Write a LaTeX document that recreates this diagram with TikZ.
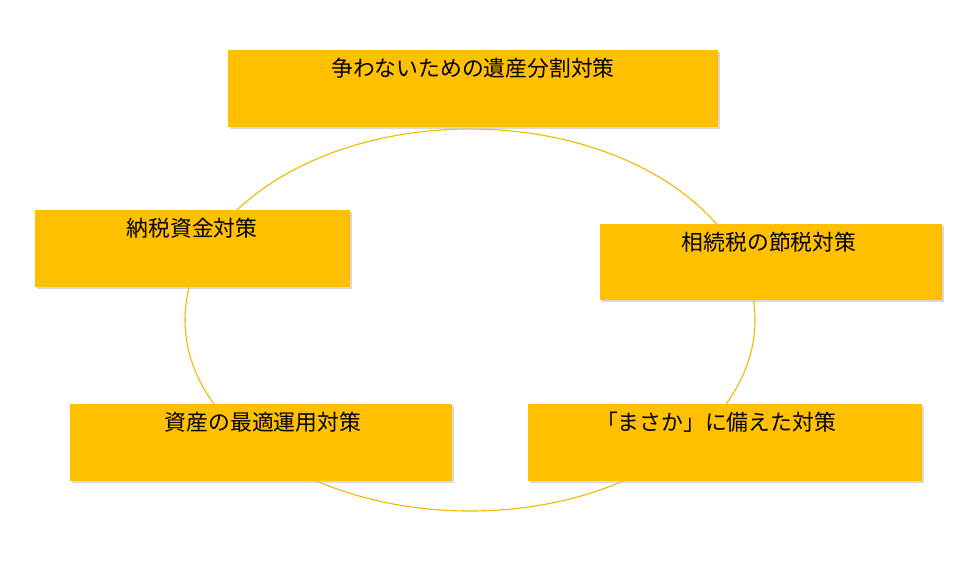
\documentclass[tikz,border=0pt]{standalone}
\usepackage{fontspec}
\newfontfamily\jpfont{Noto Sans CJK JP}
\usetikzlibrary{positioning,shadows}

\begin{document}
\begin{tikzpicture}[x=0.025cm,y=-0.025cm,
  boxnode/.style={rectangle,fill=boxfill,draw=none,inner sep=0pt,anchor=north west,
    drop shadow={shadow xshift=1.5pt,shadow yshift=-1.5pt,fill=black!25,opacity=0.6}},
  txt/.style={font=\jpfont\fontsize{15.5}{18}\selectfont,inner sep=0pt,anchor=north}]
\definecolor{boxfill}{HTML}{FFC000}
\definecolor{ringcol}{HTML}{F5B800}
\useasboundingbox (0,0) rectangle (980,560);
% ring behind the boxes
\draw[ringcol,line width=0.8pt] (470,320) ellipse [x radius=285,y radius=-191];
% boxes
\node[boxnode,minimum width=490*0.025cm,minimum height=77*0.025cm] (top) at (228,50){};
\node[boxnode,minimum width=315*0.025cm,minimum height=77*0.025cm] (left) at (35,210){};
\node[boxnode,minimum width=342*0.025cm,minimum height=76*0.025cm] (right) at (600,224){};
\node[boxnode,minimum width=382*0.025cm,minimum height=77*0.025cm] (botleft) at (70,404){};
\node[boxnode,minimum width=394*0.025cm,minimum height=77*0.025cm] (botright) at (528,404){};
% labels
\node[txt] (toptxt) at (473,58){争わないための遺産分割対策};
\node[txt] (lefttxt) at (192,218){納税資金対策};
\node[txt] (righttxt) at (769,232){相続税の節税対策};
\node[txt] (botlefttxt) at (263,412){資産の最適運用対策};
\node[txt] (botrighttxt) at (716,412){「まさか」に備えた対策};
\end{tikzpicture}
\end{document}
